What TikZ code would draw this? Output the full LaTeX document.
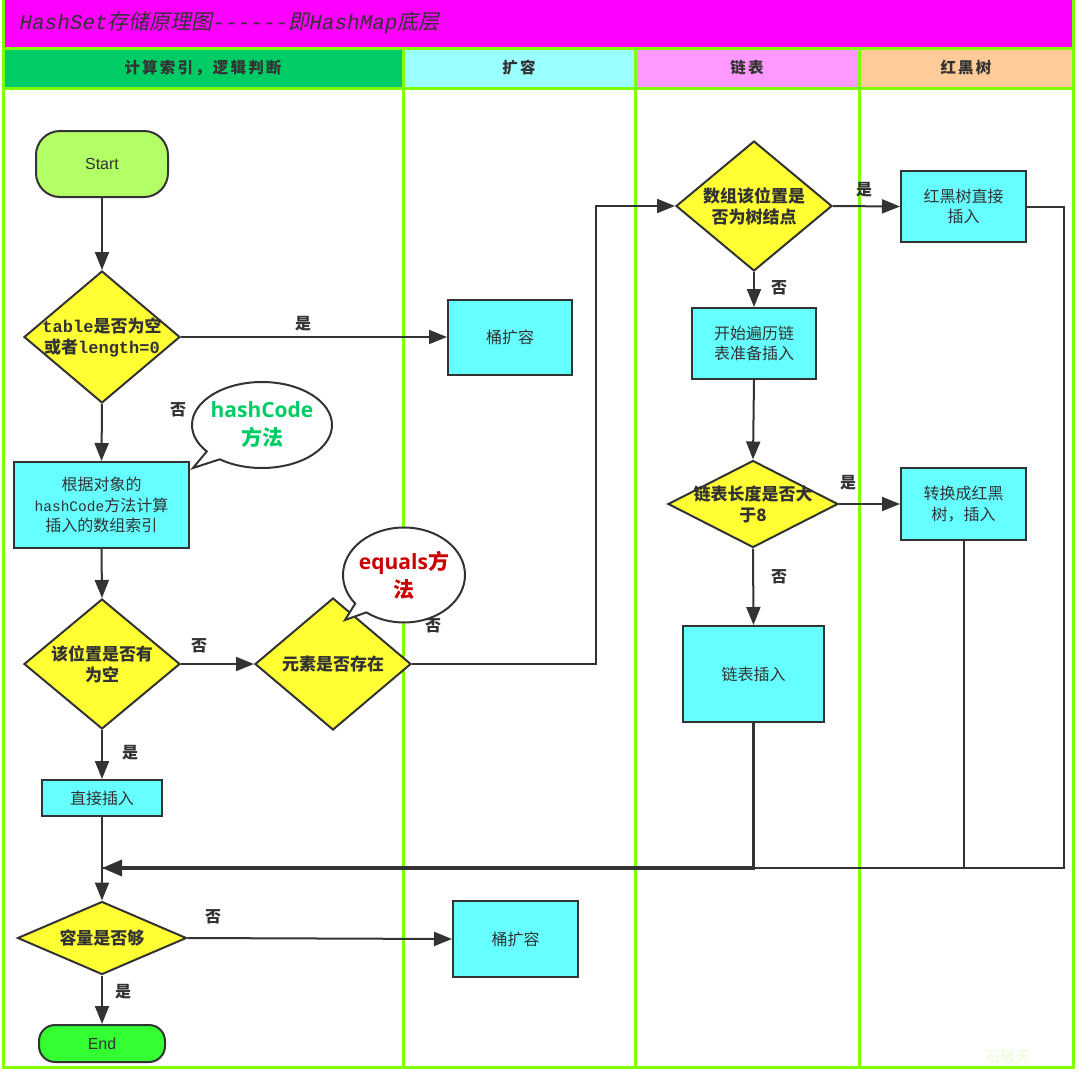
\documentclass[tikz,border=0pt]{standalone}
\usepackage{fontspec}
\setmainfont{Noto Sans CJK SC}
\newfontfamily\monof{Liberation Mono}
\newfontfamily\arialf{Liberation Sans}
\newfontfamily\notosans{Open Sans}
\newfontfamily\hdrfont{Noto Sans CJK SC}[LetterSpace=14]
\newfontfamily\titlecjk{Noto Sans CJK SC}[FakeSlant=0.2]
\usetikzlibrary{shapes.geometric,shapes.callouts,arrows.meta}
\definecolor{lanegreen}{HTML}{80FF00}
\definecolor{titlemag}{HTML}{FF00FF}
\definecolor{hone}{HTML}{00CC66}
\definecolor{htwo}{HTML}{99FFFF}
\definecolor{hthree}{HTML}{FF99FF}
\definecolor{hfour}{HTML}{FFCC99}
\definecolor{boxc}{HTML}{66FFFF}
\definecolor{diac}{HTML}{FFFF33}
\definecolor{startc}{HTML}{B2FF66}
\definecolor{endc}{HTML}{33FF33}
\definecolor{lc}{HTML}{333333}
\definecolor{txt}{HTML}{333333}
\definecolor{wmc}{HTML}{E6FFD0}
\definecolor{cgreen}{HTML}{00CC66}
\definecolor{cred}{HTML}{CC0000}
\begin{document}
\begin{tikzpicture}[x=1pt,y=-1pt,
  lane/.style={draw=lanegreen,line width=3pt},
  box/.style={draw=lc,line width=2pt,fill=boxc,inner sep=2pt,align=center,text=txt,font=\fontsize{16}{20.5}\selectfont},
  dia/.style={diamond,draw=lc,line width=2pt,fill=diac,inner sep=0pt,aspect=1},
  dtext/.style={align=center,text=txt,font=\bfseries\fontsize{17}{21}\selectfont},
  term/.style={draw=lc,line width=2pt,align=center,text=txt,font=\arialf\fontsize{16}{20}\selectfont},
  lbl/.style={text=txt,font=\bfseries\fontsize{16}{20}\selectfont},
  hdr/.style={text=txt,font=\hdrfont\bfseries\fontsize{15.5}{20}\selectfont},
  conn/.style={draw=lc,line width=2pt,-{Triangle[length=18pt,width=14pt]}},
  ret/.style={draw=lc,line width=2pt},
  bubble/.style={ellipse callout,draw=lc,line width=2pt,fill=white,inner sep=0pt}
]
\useasboundingbox (0,0) rectangle (1080,1077);
% title and headers
\fill[titlemag] (3,0) rectangle (1073,48);
\fill[hone] (3,48) rectangle (403,88);
\fill[htwo] (403,48) rectangle (635,88);
\fill[hthree] (635,48) rectangle (859,88);
\fill[hfour] (859,48) rectangle (1073,88);
\node[anchor=west,text=txt,font=\fontsize{21}{24}\selectfont] (title) at (16,23)
  {{\monof\itshape HashSet}{\titlecjk 存储原理图}{\monof\itshape ------}{\titlecjk 即}{\monof\itshape HashMap}{\titlecjk 底层}};
\node[hdr] (h1) at (203,68) {计算索引，逻辑判断};
\node[hdr] (h2) at (519,68) {扩容};
\node[hdr] (h3) at (747,68) {链表};
\node[hdr] (h4) at (966,68) {红黑树};
% lanes
\draw[lane] (3,0) -- (3,1067) -- (1073,1067) -- (1073,0);
\draw[lane] (3,48) -- (1073,48);
\draw[lane] (3,88) -- (1073,88);
\draw[lane] (403,48) -- (403,1067);
\draw[lane] (635,48) -- (635,1067);
\draw[lane] (859,48) -- (859,1067);
\node[text=wmc,font=\fontsize{15}{18}\selectfont] (wm) at (1008,1057) {石破天};
% nodes
\node[term,fill=startc,rounded corners=24pt,minimum width=132pt,minimum height=66pt] (start) at (102,164) {Start};
\node[dia,minimum width=156pt,minimum height=132pt,
  label={[dtext]center:{{\monof table}是否为空\\或者{\monof length=0}}}] (d1) at (102,337) {};
\node[box,minimum width=124pt,minimum height=75pt] (b1) at (510,337) {桶扩容};
\node[box,minimum width=175pt,minimum height=86pt] (b2) at (101.5,505) {根据对象的\\{\monof\fontsize{14.5}{20.5}\selectfont hashCode}方法计算\\插入的数组索引};
\node[dia,minimum width=156pt,minimum height=130pt,
  label={[dtext]center:{该位置是否有\\为空}}] (d2) at (102,664) {};
\node[dia,minimum width=156pt,minimum height=132pt,
  label={[dtext]center:{元素是否存在}}] (d3) at (333,664) {};
\node[box,minimum width=120pt,minimum height=36pt] (b3) at (102,798) {直接插入};
\node[dia,minimum width=169pt,minimum height=73pt,
  label={[dtext]center:{容量是否够}}] (d6) at (102,938) {};
\node[box,minimum width=125pt,minimum height=76pt] (b4) at (515.5,939) {桶扩容};
\node[term,fill=endc,rounded corners=16pt,minimum width=126pt,minimum height=37pt] (end) at (102,1043.5) {End};
\node[dia,minimum width=156pt,minimum height=130pt,
  label={[dtext]center:{数组该位置是\\否为树结点}}] (d4) at (754,206) {};
\node[box,minimum width=125pt,minimum height=71pt] (b5) at (963.5,206.5) {红黑树直接\\插入};
\node[box,minimum width=124pt,minimum height=71pt] (b6) at (754,343.5) {开始遍历链\\表准备插入};
\node[dia,minimum width=170pt,minimum height=87pt,
  label={[dtext]center:{链表长度是否大\\于8}}] (d5) at (753,504) {};
\node[box,minimum width=125pt,minimum height=72pt] (b7) at (963.5,504) {转换成红黑\\树，插入};
\node[box,minimum width=141pt,minimum height=96pt] (b8) at (753.5,674) {链表插入};
% callouts
\node[bubble,minimum width=140pt,minimum height=86pt,callout absolute pointer={(193,468)},
  label={[align=center,text=cgreen,font=\bfseries\fontsize{21}{28}\selectfont]center:{{\notosans hashCode}\\方法}}] (c1) at (262,425) {};
\node[bubble,minimum width=122pt,minimum height=95pt,callout absolute pointer={(345,620)},
  label={[align=center,text=cred,font=\bfseries\fontsize{21}{28}\selectfont]center:{{\notosans equals}方\\法}}] (c2) at (404,575) {};
% coordinates
\coordinate (bend1) at (596,664);
\coordinate (merge) at (102,868);
\coordinate (rx) at (1064,0);
% connectors
\draw[conn] (start.south) -- (d1.north);
\draw[conn] (d1.east) -- (b1.west);
\draw[conn] (d1.south) -- (b2.north);
\draw[conn] (b2.south) -- (d2.north);
\draw[conn] (d2.east) -- (d3.west);
\draw[conn] (d3.east) -- (bend1) |- (d4.west);
\draw[conn] (d4.east) -- (b5.west);
\draw[conn] (d4.south) -- (b6.north);
\draw[conn] (b6.south) -- (d5.north);
\draw[conn] (d5.east) -- (b7.west);
\draw[conn] (d5.south) -- (b8.north);
\draw[conn] (d2.south) -- (b3.north);
\draw[conn] (b3.south) -- (d6.north);
\draw[conn] (d6.east) -- (b4.west);
\draw[conn] (d6.south) -- (end.north);
\draw[ret] (b5.east) -- (b5.east -| rx) |- (merge);
\draw[ret] (b7.south) |- (merge);
\draw[draw=lc,line width=3.5pt,-{Triangle[length=20pt,width=16pt]}] (b8.south) |- (merge);
% labels
\node[lbl] (l1) at (303,324) {是};
\node[lbl] (l2) at (178,410) {否};
\node[lbl] (l3) at (199,646) {否};
\node[lbl] (l4) at (433,626) {否};
\node[lbl] (l5) at (864,190) {是};
\node[lbl] (l6) at (779,288) {否};
\node[lbl] (l7) at (848,483) {是};
\node[lbl] (l8) at (779,577) {否};
\node[lbl] (l9) at (130,753) {是};
\node[lbl] (l10) at (213,917) {否};
\node[lbl] (l11) at (123,992) {是};
\end{tikzpicture}
\end{document}
